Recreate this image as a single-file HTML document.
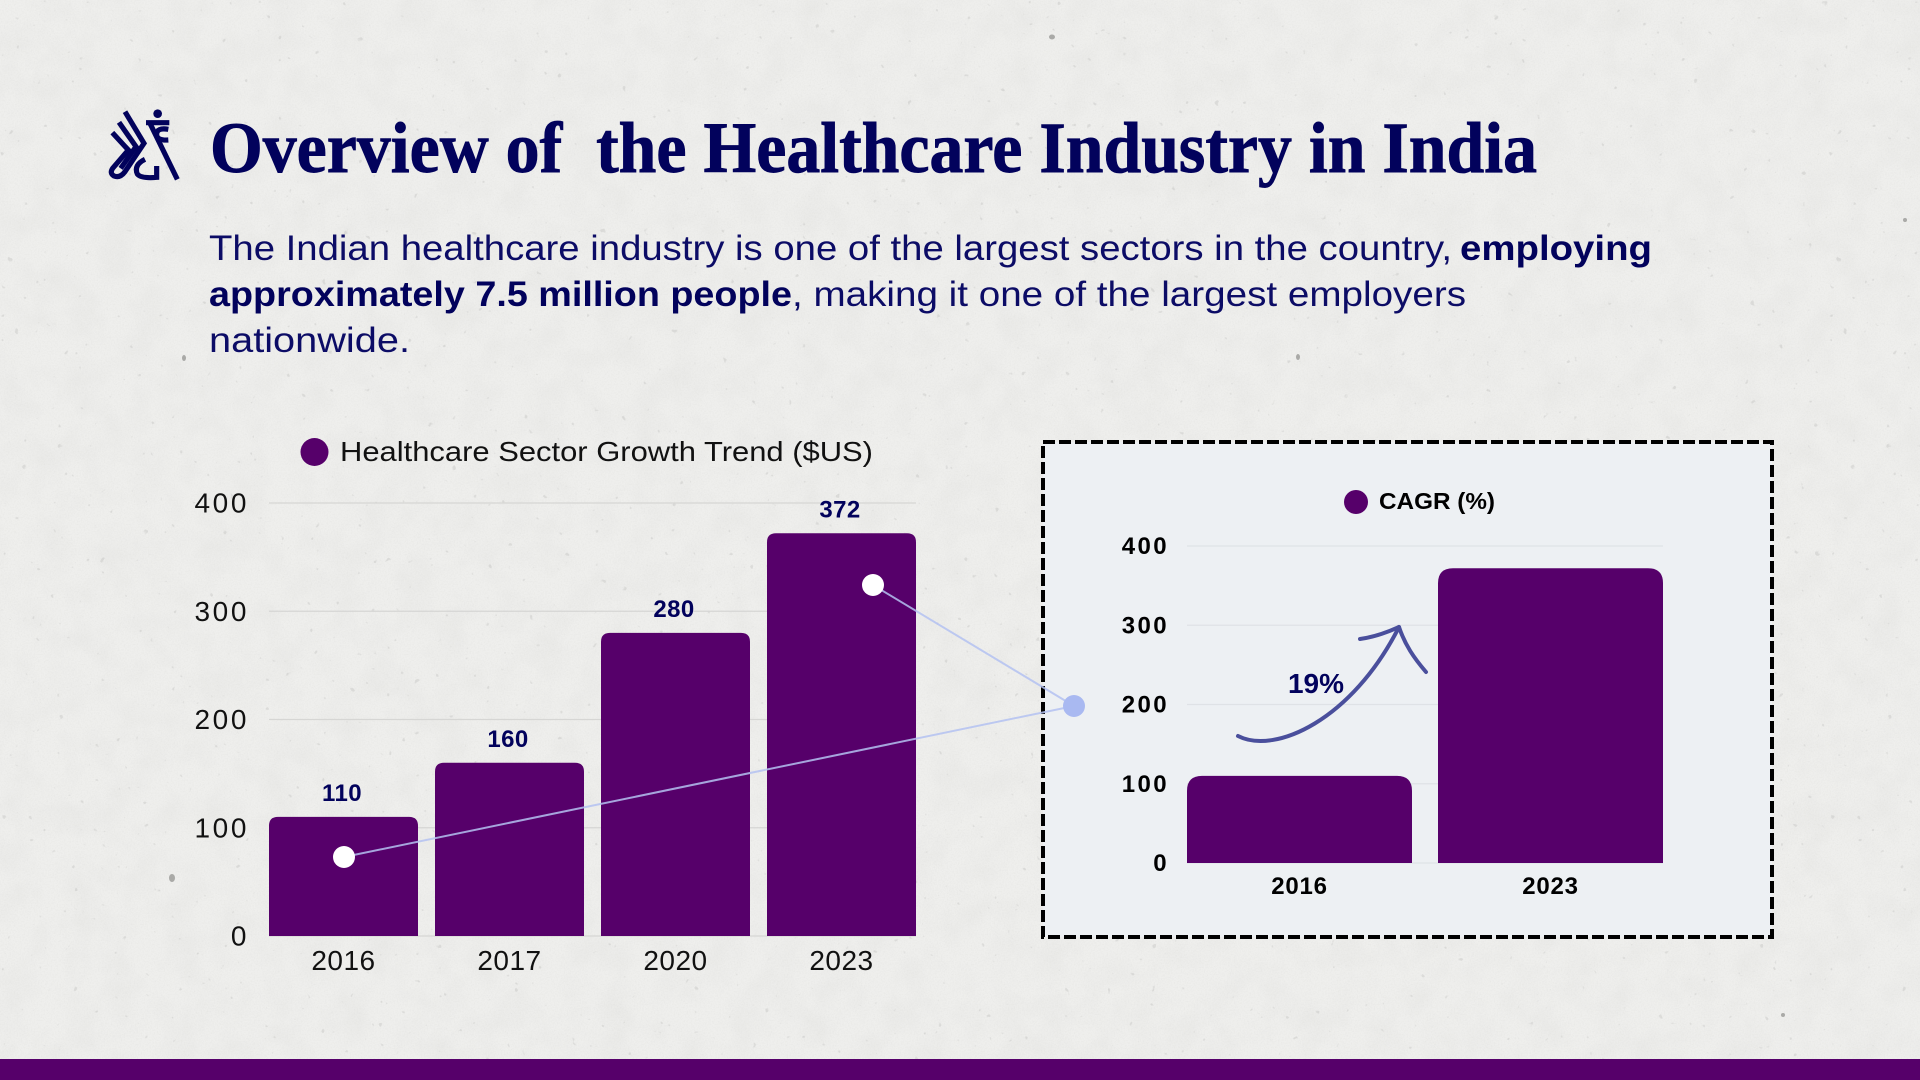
<!DOCTYPE html>
<html lang="en">
<head>
<meta charset="utf-8">
<title>Overview of the Healthcare Industry in India</title>
<style>
  html, body { margin: 0; padding: 0; width: 1920px; height: 1080px; overflow: hidden; background: #eeeeec; }
  svg { display: block; }
  text { font-family: "Liberation Sans", sans-serif; }
  .title { font-family: "Liberation Serif", serif; font-weight: 700; font-size: 72px; fill: #02025c; stroke: #02025c; stroke-width: 0.9px; white-space: pre; }
  .body { font-size: 35px; fill: #0c0c66; }
  .body-bold { font-size: 35px; font-weight: 700; fill: #02025c; }
</style>
</head>
<body>
<svg id="slide" xmlns="http://www.w3.org/2000/svg" width="1920" height="1080" viewBox="0 0 1920 1080">
  <defs>
    <filter id="grain" x="0" y="0" width="100%" height="100%">
      <feTurbulence type="fractalNoise" baseFrequency="0.7" numOctaves="3" seed="4"/>
      <feColorMatrix type="matrix" values="0 0 0 0 0.62  0 0 0 0 0.62  0 0 0 0 0.60  1.3 0 0 0 -0.5"/>
    </filter>
    <filter id="blotch" x="0" y="0" width="100%" height="100%">
      <feTurbulence type="fractalNoise" baseFrequency="0.03" numOctaves="4" seed="9"/>
      <feColorMatrix type="matrix" values="0 0 0 0 0.68  0 0 0 0 0.68  0 0 0 0 0.66  1.6 0 0 0 -0.6"/>
    </filter>
    <filter id="specks" x="0" y="0" width="100%" height="100%">
      <feTurbulence type="fractalNoise" baseFrequency="0.14" numOctaves="2" seed="21"/>
      <feColorMatrix type="matrix" values="0 0 0 0 0.45  0 0 0 0 0.45  0 0 0 0 0.44  14 0 0 0 -10.6"/>
    </filter>
  </defs>

  <g>
    <rect width="1920" height="1080" fill="#efefed"/>
    <rect width="1920" height="1080" filter="url(#blotch)" opacity="0.26"/>
    <rect width="1920" height="1080" filter="url(#grain)" opacity="0.30"/>
    <rect width="1920" height="1080" filter="url(#specks)" opacity="0.30"/>
    <g fill="#8d8d8a" opacity="0.7">
      <ellipse cx="184" cy="358" rx="2" ry="3"/>
      <ellipse cx="172" cy="878" rx="3" ry="4"/>
      <ellipse cx="1052" cy="37" rx="3" ry="2.5"/>
      <ellipse cx="1298" cy="357" rx="2" ry="3"/>
      <ellipse cx="1905" cy="220" rx="2" ry="2"/>
      <ellipse cx="1783" cy="1015" rx="2" ry="2"/>
    </g>
  </g>

  <g transform="translate(100,100) scale(0.3333)" fill="none" stroke="#02025c" stroke-width="15.5">
    <circle cx="173" cy="41" r="13" fill="#02025c" stroke="none"/>
    <path d="M75 35 L132 130 L75 215 Q60 235 42 228 Q28 220 38 205 L85 150 L37 98"/>
    <path d="M57 67 L108 140 L62 205"/>
    <path d="M138 68 H208"/>
    <path d="M150 70 L232 238"/>
    <path d="M205 88 Q170 82 170 103 Q170 122 205 120"/>
    <path d="M135 178 Q100 195 112 222 Q122 236 170 232 V198"/>
  </g>

  <text class="title" x="210" y="172" textLength="1327" lengthAdjust="spacingAndGlyphs" xml:space="preserve">Overview of  the Healthcare Industry in India</text>

  <g>
    <text class="body" x="209" y="260" textLength="1243" lengthAdjust="spacingAndGlyphs">The Indian healthcare industry is one of the largest sectors in the country,</text>
    <text class="body-bold" x="1460" y="260" textLength="192" lengthAdjust="spacingAndGlyphs">employing</text>
    <text class="body-bold" x="209" y="306" textLength="583" lengthAdjust="spacingAndGlyphs">approximately 7.5 million people</text>
    <text class="body" x="792" y="306" textLength="674" lengthAdjust="spacingAndGlyphs">, making it one of the largest employers</text>
    <text class="body" x="209" y="352" textLength="201" lengthAdjust="spacingAndGlyphs">nationwide.</text>
  </g>

  <g>
    <circle cx="314.5" cy="452" r="14" fill="#56006a"/>
    <text x="340" y="461" font-size="28" fill="#111" textLength="533" lengthAdjust="spacingAndGlyphs">Healthcare Sector Growth Trend ($US)</text>
  </g>

  <g id="left-chart"></g>

  <rect x="1043" y="442" width="729" height="495" fill="#edf0f3" stroke="#000" stroke-width="4" stroke-dasharray="12 4"/>

  <g>
    <circle cx="1356" cy="502" r="12" fill="#56006a"/>
    <text x="1379" y="509" font-size="23" font-weight="700" fill="#000" textLength="116" lengthAdjust="spacingAndGlyphs">CAGR (%)</text>
  </g>

  <g id="right-chart"></g>

  <g>
    <line x1="873" y1="585" x2="1074" y2="706" stroke="#b4c2f2" stroke-width="2" opacity="0.85"/>
    <line x1="344" y1="857" x2="1074" y2="706" stroke="#b4c2f2" stroke-width="2" opacity="0.85"/>
    <circle cx="873" cy="585" r="11" fill="#fff"/>
    <circle cx="344" cy="857" r="11" fill="#fff"/>
    <circle cx="1074" cy="706" r="11" fill="#a9b9f1"/>
  </g>

  <g fill="none" stroke="#4a4f9c" stroke-width="4" stroke-linecap="round" stroke-linejoin="round">
    <path d="M1238 736 C1275 755 1352 720 1399 627"/>
    <path d="M1360 639 C1375 637 1388 632 1399 627 C1405 645 1414 658 1426 672"/>
  </g>
  <text x="1288" y="693" font-size="28" font-weight="700" fill="#02025c" textLength="56" lengthAdjust="spacingAndGlyphs">19%</text>

  <rect x="0" y="1059" width="1920" height="21" fill="#56006a"/>
</svg>

<script>
const leftCategories = ['2016', '2017', '2020', '2023'];
const leftValues = [110, 160, 280, 372];
const leftTicks = [0, 100, 200, 300, 400];
const rightCategories = ['2016', '2023'];
const rightValues = [110, 372];
const rightTicks = [0, 100, 200, 300, 400];

const SVG_NS = 'http://www.w3.org/2000/svg';

function make(tag, attrs, parent, content) {
  const el = document.createElementNS(SVG_NS, tag);
  Object.keys(attrs).forEach(function (k) { el.setAttribute(k, attrs[k]); });
  if (content !== undefined) el.textContent = content;
  parent.appendChild(el);
  return el;
}

function topRoundedBar(x, y, w, base, r) {
  const rr = Math.min(r, Math.max(base - y, 0));
  return 'M' + x + ' ' + base + 'V' + (y + rr) + 'Q' + x + ' ' + y + ' ' + (x + rr) + ' ' + y +
    'H' + (x + w - rr) + 'Q' + (x + w) + ' ' + y + ' ' + (x + w) + ' ' + (y + rr) + 'V' + base + 'Z';
}

/* Left chart axes */
function leftY(v) { return 936 - v * 1.0825; }
function leftX(i) { return 269 + i * 166; }
const leftBarWidth = 149;

/* Right chart axes */
function rightY(v) { return 863 - v * 0.7925; }
function rightX(i) { return 1187 + i * 251; }
const rightBarWidth = 225;

const leftRoot = document.getElementById('left-chart');
leftTicks.forEach(function (t) {
  const grid = make('line', { x1: 269, x2: 916, y1: leftY(t), y2: leftY(t), stroke: '#d6d6d4', 'stroke-width': 1.2 }, leftRoot);
  
  
  const lab = make('text', { x: 249, y: leftY(t) + 9.5, 'text-anchor': 'end', 'font-size': 28, 'letter-spacing': 2.6, fill: '#111' }, leftRoot, String(t));
  
  
});
leftValues.forEach(function (v, i) {
  const bar = make('path', { d: topRoundedBar(leftX(i), leftY(v), leftBarWidth, leftY(0), 9), fill: '#56006a' }, leftRoot);
  
  
  const val = make('text', { x: leftX(i) + leftBarWidth / 2 - 1.5, y: leftY(v) - 16, 'text-anchor': 'middle', 'font-size': 24, 'font-weight': 700, 'letter-spacing': 0.4, fill: '#02025c' }, leftRoot, String(v));
  
  
  const cat = make('text', { x: leftX(i) + leftBarWidth / 2, y: 970, 'text-anchor': 'middle', 'font-size': 28, 'letter-spacing': 0.5, fill: '#111' }, leftRoot, leftCategories[i]);
  
  
});

const rightRoot = document.getElementById('right-chart');
rightTicks.forEach(function (t) {
  const grid = make('line', { x1: 1187, x2: 1663, y1: rightY(t), y2: rightY(t), stroke: '#dfe2e6', 'stroke-width': 1.2 }, rightRoot);
  
  
  const lab = make('text', { x: 1169, y: rightY(t) + 8, 'text-anchor': 'end', 'font-size': 24, 'font-weight': 700, 'letter-spacing': 2.4, fill: '#000' }, rightRoot, String(t));
  
  
});
rightValues.forEach(function (v, i) {
  const bar = make('path', { d: topRoundedBar(rightX(i), rightY(v), rightBarWidth, rightY(0), 15), fill: '#56006a' }, rightRoot);
  
  
  const cat = make('text', { x: rightX(i) + rightBarWidth / 2, y: 894, 'text-anchor': 'middle', 'font-size': 24, 'font-weight': 700, 'letter-spacing': 0.8, fill: '#000' }, rightRoot, rightCategories[i]);
  
  
});
</script>
</body>
</html>
